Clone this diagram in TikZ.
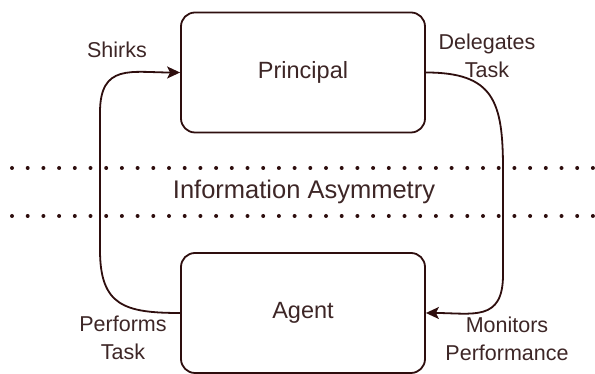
\documentclass[tikz,border=0pt]{standalone}
\usepackage{fontspec}
\setmainfont{Liberation Sans}
\usetikzlibrary{arrows.meta, positioning}
\definecolor{linebrown}{HTML}{2E0E0E}
\definecolor{textbrown}{HTML}{3D2626}

\begin{document}
\begin{tikzpicture}[x=1pt, y=1pt, line join=round, line cap=round]
        \tikzset{party/.style={draw=linebrown, line width=1.8pt, rounded corners=14pt,
                               minimum width=244pt, minimum height=120pt,
                               text=textbrown, font=\fontsize{23.5}{27}\selectfont}}
        \tikzset{lbl/.style={text=textbrown, align=center, inner sep=0pt,
                             font=\fontsize{21.5}{28}\selectfont}}
        \tikzset{flow/.style={-{Stealth[length=13pt, width=12pt, inset=3pt]}, linebrown, line width=1.8pt}}
        \tikzset{dotrow/.style={linebrown, line width=4pt, line cap=round, dash pattern=on 0pt off 15.7pt}}
        \useasboundingbox (0, 0) rectangle (595, 374);
        \foreach \yy in {158, 206} {
            \draw[dotrow] (12, \yy) -- (600, \yy);
        }
        \node[party] (principal) at (303, 301.5) {Principal};
        \node[party] (agent) at (303, 61) {Agent};
        \node[lbl, font=\fontsize{25.5}{30}\selectfont] (asym) at (304, 182) {Information Asymmetry};
        \node[lbl] (shirks) at (117, 324) {Shirks};
        \node[lbl] (delegates) at (487, 318) {Delegates\\Task};
        \node[lbl] (performs) at (123, 36) {Performs\\Task};
        \node[lbl] (monitors) at (507, 35) {Monitors\\Performance};
        \coordinate (lb) at (100, 124);
        \coordinate (lt) at (100, 261.5);
        \coordinate (rt) at (503, 205);
        \coordinate (rb) at (503, 99);
        \draw[flow] (agent.west) to[out=180, in=-90, looseness=1.4] (lb)
                 -- (lt) to[out=90, in=180, looseness=1.4] (principal.west);
        \draw[flow] (principal.east) to[out=0, in=90, looseness=1.4] (rt)
                 -- (rb) to[out=-90, in=0, looseness=1.4] (agent.east);
    \end{tikzpicture}
\end{document}
